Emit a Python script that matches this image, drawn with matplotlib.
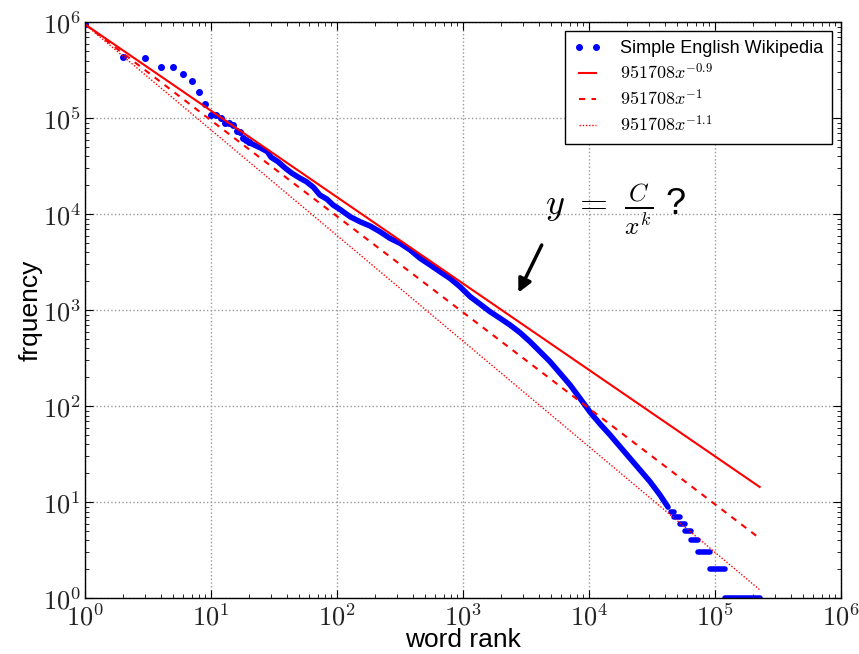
import numpy as np
import matplotlib
matplotlib.use("Agg")
import matplotlib.pyplot as plt
from matplotlib.ticker import FuncFormatter, LogLocator

# Word rank / frequency counts, Simple English Wikipedia
top_ranks = list(range(1, 21))
top_freqs = [951708, 438000, 422000, 346000, 344000, 287000, 244700, 189000,
             140000, 108000, 107000, 100000, 90000, 89000, 85100, 74300,
             71500, 63000, 60000, 56000]

band_ranks = [20, 25, 28, 30, 34, 39, 44, 51, 57, 65, 73, 83, 93, 106, 127,
              152, 183, 219, 263, 316, 380, 456, 547, 657, 788, 946, 1136,
              1364, 1637, 1966, 2360, 2833, 3401, 4083, 4901, 5884, 7063,
              8479, 10180, 12220, 14670, 17610, 21140, 25380, 30470, 36580,
              42350]
band_freqs = [56000, 48700, 44900, 39200, 35300, 30100, 26700, 23700, 21900,
              19100, 15900, 14400, 12500, 11200, 9440, 8370, 7550, 6590, 5620,
              4990, 4250, 3480, 2970, 2520, 2150, 1760, 1390, 1160, 967, 826,
              703, 585, 471, 371, 292, 221, 167, 121, 87, 65.5, 50.3, 38,
              28.7, 21.7, 16.4, 11.9, 8.9]

# low counts: first rank at which each count starts
tail_freqs = [8, 7, 6, 5, 4, 3, 2, 1]
tail_first_rank = [44500, 47500, 52500, 57500, 64000, 73500, 91000, 119000]
vocab_size = 226000

C = 951708
exponents = [0.9, 1.0, 1.1]
fit_styles = [dict(ls="-", lw=1.5),
              dict(ls=(0, (3, 3)), lw=1.5),
              dict(ls=(0, (1, 1.3)), lw=1.0)]
fit_labels = [r"$951708x^{-0.9}$", r"$951708x^{-1}$", r"$951708x^{-1.1}$"]

BLUE = "#0000ff"
RED = "#ff0000"

plt.rcParams["font.family"] = ["Liberation Sans", "DejaVu Sans"]
plt.rcParams["mathtext.fontset"] = "cm"

fig = plt.figure(figsize=(8.59, 6.54), dpi=100)
ax = fig.add_axes([0.0990, 0.0852, 0.8801, 0.8807])
ax.set_xscale("log")
ax.set_yscale("log")

ax.plot(top_ranks, top_freqs, "o", color=BLUE, mec=BLUE, ms=4,
        label="Simple English Wikipedia")
ax.plot(band_ranks, band_freqs, "-", color=BLUE, lw=4,
        solid_capstyle="round", solid_joinstyle="round")
ends = tail_first_rank[1:] + [vocab_size]
for f, r0, r1 in zip(tail_freqs, tail_first_rank, ends):
    ax.plot([r0, r1], [f, f], "-", color=BLUE, lw=4, solid_capstyle="round")

xs = np.array([1, vocab_size], dtype=float)
for k, st, lbl in zip(exponents, fit_styles, fit_labels):
    ax.plot(xs, C * xs ** (-k), color=RED, label=lbl, **st)

ax.set_xlim(1, 1e6)
ax.set_ylim(1, 1e6)

fmt = FuncFormatter(lambda v, p: r"$10^{%d}$" % round(np.log10(v)))
ax.xaxis.set_major_formatter(fmt)
ax.yaxis.set_major_formatter(fmt)
for axis in (ax.xaxis, ax.yaxis):
    axis.set_major_locator(LogLocator(base=10, numticks=10))
    axis.set_minor_locator(LogLocator(base=10, subs=np.arange(2, 10), numticks=20))

ax.tick_params(which="both", direction="in", top=True, right=True,
               labelsize=19, colors="k", labelcolor="#222222")
ax.tick_params(which="major", length=6, width=0.8)
ax.tick_params(which="minor", length=3, width=0.6)
ax.tick_params(axis="x", pad=4)
ax.tick_params(axis="y", pad=3)
ax.grid(True, which="major", ls=":", color="0.6", lw=1)
for sp in ax.spines.values():
    sp.set_linewidth(1.0)

ax.set_xlabel("word rank", fontsize=19)
ax.set_ylabel("frquency", fontsize=19)
ax.xaxis.set_label_coords(0.5, -0.052)
ax.yaxis.set_label_coords(-0.056, 0.5)

ax.text(16370, 11350, r"$y\ =\ \frac{C}{x^k}$ ?", fontsize=26,
        ha="center", va="center")
ax.annotate("", xy=(2748, 1525), xytext=(4213, 4788),
            arrowprops=dict(arrowstyle="-|>", color="k", lw=2.5,
                            mutation_scale=20, shrinkA=0, shrinkB=0))

leg = ax.legend(loc="upper right", fontsize=13, numpoints=2,
                handlelength=1.55, handletextpad=1.0, labelspacing=0.3,
                borderpad=0.5, borderaxespad=0.5, fancybox=False,
                framealpha=1, edgecolor="k")
leg.get_frame().set_linewidth(1.0)

fig.savefig("out.png", dpi=100, facecolor="white")
